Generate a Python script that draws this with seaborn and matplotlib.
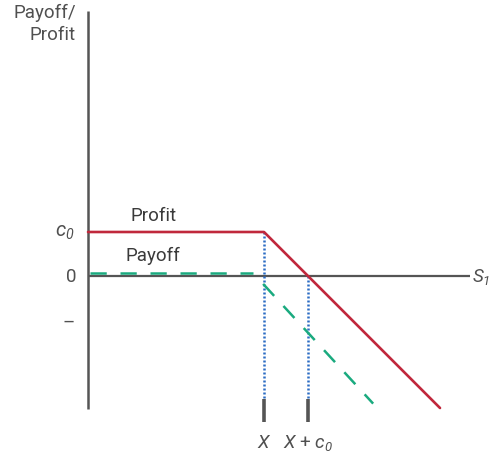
"""Short call payoff / profit diagram in seaborn."""

import matplotlib
matplotlib.use('Agg')
import matplotlib.pyplot as plt
import seaborn as sns
import pandas as pd

# values (strike X = 4, premium c0 = 1)
strike = 4.0
premium = 1.0
profit_s = [0.0, 4.0, 8.0]
profit_v = [1.0, 1.0, -3.0]
payoff_flat_s = [0.05, 3.75]
payoff_flat_v = [0.07, 0.07]
payoff_down_s = [3.98, 6.48]
payoff_down_v = [-0.18, -2.9]
tick_labels = ['$X$', '$X$ + $c_0$']

red = '#c0283c'
green = '#1aaa7f'
blue = '#2b6cc4'
grey = '#555555'
text_grey = '#505050'

sns.set_theme(style='white')
plt.rcParams['font.family'] = ['Roboto', 'DejaVu Sans']
# every math symbol in this chart is italic, subscripts included
plt.rcParams['mathtext.fontset'] = 'custom'
plt.rcParams['mathtext.it'] = 'Roboto:italic'
plt.rcParams['mathtext.rm'] = 'Roboto:italic'

fig = plt.figure(figsize=(4.9, 4.56), dpi=100)
ax = fig.add_axes([0, 0, 1, 1])

# axes
ax.plot([0, 0], [-3.02, 6.02], color=grey, lw=1.8, solid_capstyle='butt')
ax.plot([0, 8.68], [0, 0], color=grey, lw=1.6, solid_capstyle='butt')

# guide lines and ticks
ax.plot([strike, strike], [premium, -2.8], color=blue, lw=1.8, ls=(0, (0.8, 0.8)))
ax.plot([strike + premium] * 2, [0, -2.8], color=blue, lw=1.8, ls=(0, (0.8, 0.8)))
for xv in [strike, strike + premium]:
    ax.plot([xv, xv], [-2.8, -3.32], color=grey, lw=2.6, solid_capstyle='butt')

profit = pd.DataFrame({'s': profit_s, 'v': profit_v})
sns.lineplot(data=profit, x='s', y='v', color=red, lw=1.9, ax=ax, sort=False)

flat = pd.DataFrame({'s': payoff_flat_s, 'v': payoff_flat_v})
sns.lineplot(data=flat, x='s', y='v', color=green, lw=1.8, ax=ax,
             ls=(0, (6.5, 5.5)))
down = pd.DataFrame({'s': payoff_down_s, 'v': payoff_down_v})
sns.lineplot(data=down, x='s', y='v', color=green, lw=1.8, ax=ax,
             ls=(0, (6.5, 5.5)))

fs = 13.5
ax.text(-0.27, 6.2, 'Payoff/\nProfit', ha='right', va='top', color=text_grey,
        fontsize=fs, multialignment='right', linespacing=1.3)
ax.text(-0.3, 1.0, '$c_0$', ha='right', va='center', color=text_grey,
        fontsize=fs + 1)
ax.text(-0.27, 0.0, '0', ha='right', va='center', color=text_grey, fontsize=fs)
ax.text(-0.3, -1.05, '–', ha='right', va='center', color=text_grey, fontsize=fs)
ax.text(8.72, 0.0, '$S_1$', ha='left', va='center', color=text_grey, fontsize=fs)
ax.text(1.48, 1.39, 'Profit', ha='center', va='center', color='#3a3a3a', fontsize=fs)
ax.text(1.48, 0.48, 'Payoff', ha='center', va='center', color='#3a3a3a', fontsize=fs)
for xv, lab in zip([strike, strike + premium], tick_labels):
    ax.text(xv, -3.77, lab, ha='center', va='center', color=text_grey, fontsize=fs)

ax.set_xlim(-2.0, 9.136)
ax.set_ylim(-4.068, 6.295)
ax.set_axis_off()
if ax.get_legend():
    ax.get_legend().remove()

fig.savefig('out.png', dpi=100)
